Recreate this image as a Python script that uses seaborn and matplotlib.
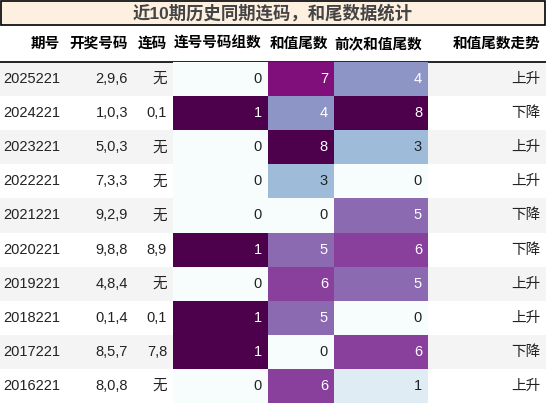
import matplotlib
matplotlib.use("Agg")
import matplotlib.pyplot as plt
import seaborn as sns
import numpy as np
from matplotlib.patches import Rectangle
from matplotlib import colors as mcolors

sns.set_theme(style="white")
plt.rcParams['font.family'] = ['Liberation Sans', 'Noto Sans CJK SC', 'DejaVu Sans']

title = "近10期历史同期连码，和尾数据统计"
headers = ["期号", "开奖号码", "连码", "连号号码组数", "和值尾数", "前次和值尾数", "和值尾数走势"]
periods = ["2025221", "2024221", "2023221", "2022221", "2021221", "2020221", "2019221", "2018221", "2017221", "2016221"]
numbers = ["2,9,6", "1,0,3", "5,0,3", "7,3,3", "9,2,9", "9,8,8", "4,8,4", "0,1,4", "8,5,7", "8,0,8"]
lianma = ["无", "0,1", "无", "无", "无", "8,9", "无", "0,1", "7,8", "无"]
groups = [0, 1, 0, 0, 0, 1, 0, 1, 1, 0]
tail = [7, 4, 8, 3, 0, 5, 6, 5, 0, 6]
prev_tail = [4, 8, 3, 0, 5, 6, 5, 0, 6, 1]
trend = ["上升", "下降", "上升", "上升", "下降", "下降", "上升", "上升", "下降", "上升"]

W, H = 546, 403
fig = plt.figure(figsize=(W/100, H/100), dpi=100)
ax = fig.add_axes([0, 0, 1, 1])
ax.set_xlim(0, W); ax.set_ylim(H, 0); ax.axis("off")

edges = [0, 66, 134, 173, 268, 334, 428, 546]
row_top = 62.0
rh = (H - row_top) / 10
pad = 6

ax.add_patch(Rectangle((1, 1), W-2, 24, facecolor="#fdf0e1", edgecolor="black", lw=1.2))
ax.text(W/2, 13, title, ha="center", va="center", fontsize=12.5, color="#444444", fontweight="bold")
for j, h in enumerate(headers):
    ax.text(edges[j+1]-pad, 44, h, ha="right", va="center", fontsize=10.5, fontweight="bold", color="black")
ax.plot([0, W], [row_top, row_top], color="black", lw=1.2)

for i in range(10):
    y0 = row_top + i*rh
    if i % 2 == 0:
        ax.add_patch(Rectangle((0, y0), W, rh, facecolor="#f4f4f4", edgecolor="none", zorder=0))
    yc = y0 + rh/2
    for j, v in [(0, periods[i]), (1, numbers[i]), (2, lianma[i]), (6, trend[i])]:
        ax.text(edges[j+1]-pad, yc, v, ha="right", va="center", fontsize=10.5, color="#222222", zorder=3)

cmap = plt.get_cmap("BuPu")
def lum(c):
    r, g, b = [x/12.92 if x <= 0.04045 else ((x+0.055)/1.055)**2.4 for x in c[:3]]
    return 0.2126*r + 0.7152*g + 0.0722*b

cols = [(3, groups, 0, 1), (4, tail, 0, 8), (5, prev_tail, 0, 8)]
for j, vals, vmin, vmax in cols:
    x0, x1 = edges[j], edges[j+1]
    hax = fig.add_axes([x0/W, 0, (x1-x0)/W, (H-row_top)/H])
    data = np.array(vals, dtype=float).reshape(-1, 1)
    sns.heatmap(data, ax=hax, cmap="BuPu", vmin=vmin, vmax=vmax, cbar=False,
                xticklabels=False, yticklabels=False, linewidths=0)
    hax.axis("off")
    norm = mcolors.Normalize(vmin, vmax)
    for i, v in enumerate(vals):
        c = cmap(norm(v))
        tc = "white" if lum(c) < 0.408 else "#222222"
        hax.text(1 - pad/(x1-x0), i + 0.5, str(v), ha="right", va="center", fontsize=10.5, color=tc)

fig.savefig("out.png", dpi=100)
